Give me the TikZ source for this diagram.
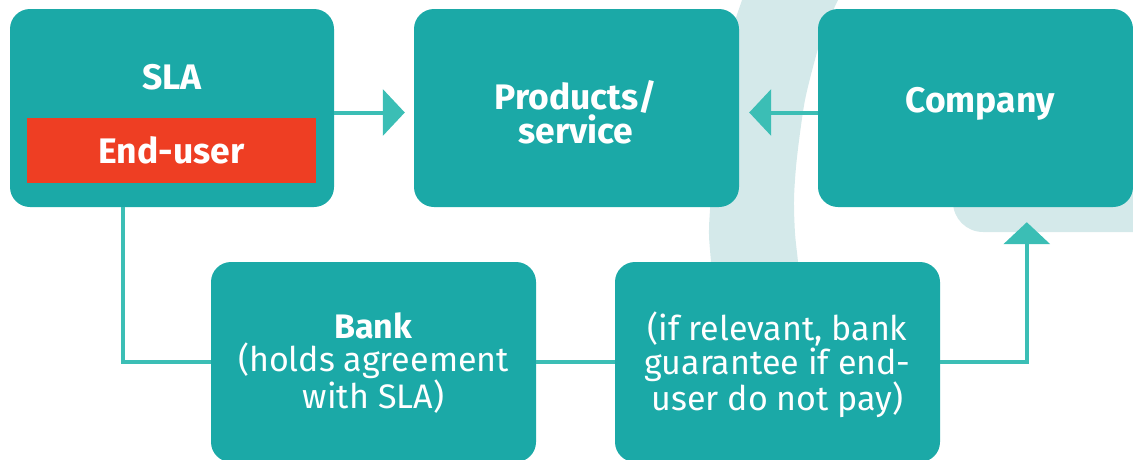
\documentclass[tikz,border=0pt]{standalone}
\usepackage{fontspec}
\setmainfont{Fira Sans}
\usetikzlibrary{arrows.meta}
\definecolor{boxteal}{RGB}{27,169,167}
\definecolor{arrteal}{RGB}{59,190,181}
\definecolor{bandcol}{RGB}{212,233,234}
\definecolor{enduserred}{RGB}{238,62,35}
\begin{document}
\begin{tikzpicture}[x=1pt,y=-1pt,
  tealbox/.style={fill=boxteal, rounded corners=20pt, inner sep=0pt, text=white},
  titletext/.style={text=white, inner sep=0pt, align=center, font=\fontsize{35.5}{31}\selectfont\bfseries},
  bodytext/.style={text=white, inner sep=0pt, align=center, font=\fontsize{34}{33.5}\selectfont},
  conn/.style={draw=arrteal, line width=4pt},
  tip/.style={-{Triangle[length=22pt,width=46pt]}}]
\useasboundingbox (0,0) rectangle (1133,459);
% background band
\fill[bandcol] plot[smooth] coordinates {(745,-10) (742,0) (732,33) (722,100) (714,167) (710,210) (709,235) (711,262) (713,290)}
  -- plot[smooth] coordinates {(800,290) (798,262) (795,233) (794,200) (796,167) (800,133) (805,100) (813,67) (823,33) (838,0) (844,-10)} -- cycle;
\fill[bandcol, rounded corners=30pt] (953,100) rectangle (1170,232);
% boxes
\node[tealbox, minimum width=324pt, minimum height=198pt] (sla) at (172,108) {};
\node[titletext] (slatext) at (172,77) {SLA};
\node[fill=enduserred, minimum width=289pt, minimum height=65pt, titletext] (enduser) at (171.5,150.5) {End-user};
\node[tealbox, minimum width=325pt, minimum height=198pt] (prod) at (576.5,108) {};
\node[titletext] (prodtext) at (576,112) {Products/\\service};
\node[tealbox, minimum width=315pt, minimum height=198pt] (comp) at (975.5,108) {};
\node[titletext] (comptext) at (980,104) {Company};
\node[tealbox, minimum width=325pt, minimum height=200pt] (bank) at (373.5,362) {};
\node[bodytext] (banktext) at (373.5,363) {\textbf{Bank}\\(holds agreement\\with SLA)};
\node[tealbox, minimum width=325pt, minimum height=200pt] (guar) at (777.5,362) {};
\node[bodytext] (guartext) at (777.5,365) {(if relevant, bank\\guarantee if end-\\user do not pay)};
% connectors
\draw[conn, tip, shorten >=9pt] ([yshift=-4.5pt]sla.east) -- ([yshift=-4.5pt]prod.west);
\draw[conn, tip, shorten >=10pt] ([yshift=-4.5pt]comp.west) -- ([yshift=-4.5pt]prod.east);
\draw[conn] ([xshift=113pt]sla.south west) |- (bank.west);
\draw[conn] (bank.east) -- (guar.west);
\draw[conn, tip, shorten >=15pt] (guar.east) -| ([xshift=209pt]comp.south west);
\end{tikzpicture}
\end{document}
